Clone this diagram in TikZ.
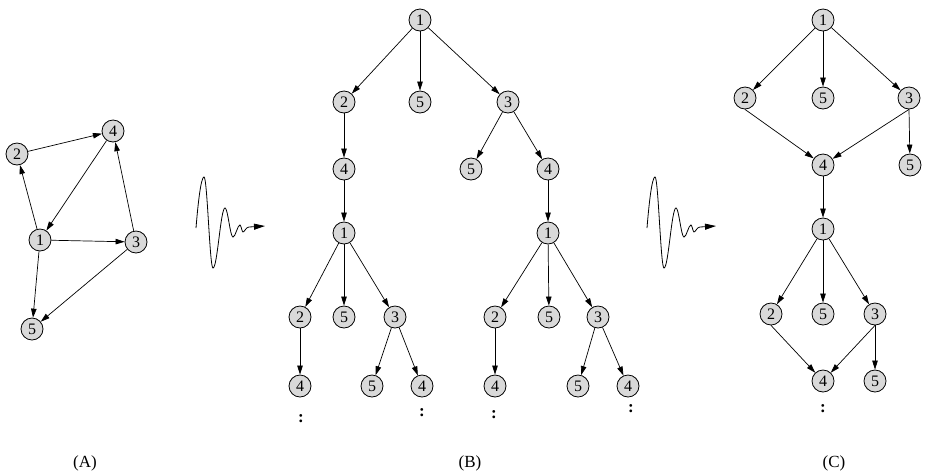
\documentclass[tikz,border=0pt]{standalone}
\usepackage{fontspec}
\setmainfont{Liberation Serif}
\usepackage{tikz}
\usetikzlibrary{arrows.meta}

\begin{document}
\begin{tikzpicture}[x=1pt, y=-1pt,
    vtx/.style={draw, circle, line width=0.8pt, fill=gray!30, inner sep=0pt,
                minimum size=22pt, font=\fontsize{16}{16}\selectfont},
    arrow/.style={-{Triangle[length=9pt,width=5.5pt]}, line width=0.7pt},
    wave/.style={-{Triangle[length=11pt,width=6pt]}, line width=0.8pt},
    dots/.style={inner sep=0pt, font=\fontsize{17}{17}\selectfont\bfseries},
    lab/.style={font=\fontsize{17}{17}\selectfont}
  ]
    \useasboundingbox (0,0) rectangle (926,475);

    % (A) the graph
    \node[vtx] (a4) at (113,131) {4};
    \node[vtx] (a2) at (17,154) {2};
    \node[vtx] (a1) at (40,240) {1};
    \node[vtx] (a3) at (136,242) {3};
    \node[vtx] (a5) at (32,329) {5};
    \draw[arrow] (a1) -- (a2);
    \draw[arrow] (a2) -- (a4);
    \draw[arrow] (a4) -- (a1);
    \draw[arrow] (a3) -- (a4);
    \draw[arrow] (a1) -- (a3);
    \draw[arrow] (a1) -- (a5);
    \draw[arrow] (a3) -- (a5);

    % (B) the unfolded tree
    \node[vtx] (b1)   at (420,20)  {1};
    \node[vtx] (b2)   at (344,102) {2};
    \node[vtx] (b5)   at (420,102) {5};
    \node[vtx] (b3)   at (508,102) {3};
    \node[vtx] (b24)  at (344,169) {4};
    \node[vtx] (b35)  at (471,169) {5};
    \node[vtx] (b34)  at (548,169) {4};
    \node[vtx] (bl1)  at (344,233) {1};
    \node[vtx] (br1)  at (548,233) {1};
    \node[vtx] (bl2)  at (300,317) {2};
    \node[vtx] (bl5)  at (344,317) {5};
    \node[vtx] (bl3)  at (395,317) {3};
    \node[vtx] (bl24) at (300,386) {4};
    \node[vtx] (bl35) at (372,386) {5};
    \node[vtx] (bl34) at (422,386) {4};
    \node[vtx] (br2)  at (495,317) {2};
    \node[vtx] (br5)  at (549,317) {5};
    \node[vtx] (br3)  at (598,317) {3};
    \node[vtx] (br24) at (495,386) {4};
    \node[vtx] (br35) at (578,386) {5};
    \node[vtx] (br34) at (628,386) {4};
    \node[dots] (d1) at (301,419) {:};
    \node[dots] (d2) at (422,413) {:};
    \node[dots] (d3) at (494,415) {:};
    \node[dots] (d4) at (631,409) {:};

    \draw[arrow] (b1) -- (b2);
    \draw[arrow] (b1) -- (b5);
    \draw[arrow] (b1) -- (b3);
    \draw[arrow] (b2) -- (b24);
    \draw[arrow] (b3) -- (b35);
    \draw[arrow] (b3) -- (b34);
    \draw[arrow] (b24) -- (bl1);
    \draw[arrow] (b34) -- (br1);
    \draw[arrow] (bl1) -- (bl2);
    \draw[arrow] (bl1) -- (bl5);
    \draw[arrow] (bl1) -- (bl3);
    \draw[arrow] (bl2) -- (bl24);
    \draw[arrow] (bl3) -- (bl35);
    \draw[arrow] (bl3) -- (bl34);
    \draw[arrow] (br1) -- (br2);
    \draw[arrow] (br1) -- (br5);
    \draw[arrow] (br1) -- (br3);
    \draw[arrow] (br2) -- (br24);
    \draw[arrow] (br3) -- (br35);
    \draw[arrow] (br3) -- (br34);

    % (C) the folded graph
    \node[vtx] (c1)  at (823,20)  {1};
    \node[vtx] (c2)  at (745,98)  {2};
    \node[vtx] (c5)  at (823,98)  {5};
    \node[vtx] (c3)  at (909,98)  {3};
    \node[vtx] (c4)  at (823,165) {4};
    \node[vtx] (c35) at (910,165) {5};
    \node[vtx] (cc1) at (823,229) {1};
    \node[vtx] (cc2) at (771,314) {2};
    \node[vtx] (cc5) at (823,314) {5};
    \node[vtx] (cc3) at (875,314) {3};
    \node[vtx] (cc4) at (823,381) {4};
    \node[vtx] (cc35) at (875,381) {5};
    \node[dots] (d5) at (823,409) {:};

    \draw[arrow] (c1) -- (c2);
    \draw[arrow] (c1) -- (c5);
    \draw[arrow] (c1) -- (c3);
    \draw[arrow] (c2.south) -- (c4);
    \draw[arrow] (c3.south) -- (c4);
    \draw[arrow] (c3.south) -- (c35);
    \draw[arrow] (c4) -- (cc1);
    \draw[arrow] (cc1) -- (cc2);
    \draw[arrow] (cc1) -- (cc5);
    \draw[arrow] (cc1) -- (cc3);
    \draw[arrow] (cc2.south) -- (cc4);
    \draw[arrow] (cc3.south) -- (cc4);
    \draw[arrow] (cc3.south) -- (cc35);

    % wavy arrows
    \foreach \sx in {196,647}
      \draw[wave, shift={(\sx,228)}] (0,0)
        .. controls (2,-25) and (5,-51) .. (8,-51)
        .. controls (11.3,-51) and (13.7,40) .. (17,40)
        .. controls (21.4,40) and (24.6,-20) .. (29,-20)
        .. controls (31.9,-20) and (34.1,9) .. (37,9)
        .. controls (39.5,9) and (41.5,-3) .. (44,-3)
        .. controls (45,-3) and (46,4) .. (47,4)
        .. controls (48.5,4) and (50,-1) .. (53,-1)
        -- (69,-2);

    \node[lab] (la) at (85,463)  {(A)};
    \node[lab] (lb) at (470,463) {(B)};
    \node[lab] (lc) at (834,463) {(C)};
  \end{tikzpicture}
\end{document}
